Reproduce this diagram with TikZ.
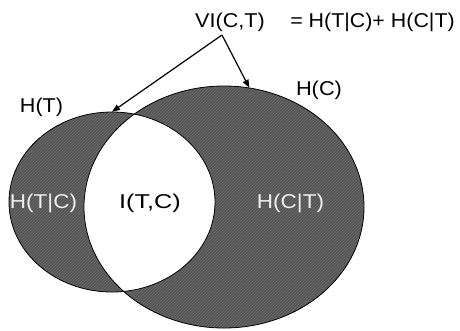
\documentclass[tikz,border=0pt]{standalone}
\usepackage{fontspec}
\usepackage{graphicx}
\setmainfont{Liberation Sans}
\usetikzlibrary{patterns,arrows.meta,shapes.geometric}
\definecolor{darkfill}{RGB}{86,86,86}
\definecolor{hatch}{RGB}{108,108,108}
\definecolor{lighttext}{RGB}{238,238,238}
\begin{document}
\begin{tikzpicture}[x=1pt,y=-1pt,
  lbl/.style={inner sep=0pt, anchor=base, font=\fontsize{20}{22}\selectfont},
  venn/.style={ellipse, inner sep=0pt, preaction={fill=darkfill}, pattern=north east lines, pattern color=hatch},
  arr/.style={-{Triangle[length=8pt,width=6pt]}, line width=1.2pt},
  outline/.style={line width=0.8pt}]
\useasboundingbox (0,0) rectangle (460,330);
% sets
\node[venn, minimum width=280pt, minimum height=242pt] (C) at (224,207) {};
\node[venn, minimum width=206pt, minimum height=180pt] (T) at (112,202) {};
\begin{scope}
  \clip (T.center) ellipse [x radius=103pt, y radius=90pt];
  \fill[white] (C.center) ellipse [x radius=140pt, y radius=121pt];
\end{scope}
\draw[outline] (C.center) ellipse [x radius=140pt, y radius=121pt];
\draw[outline] (T.center) ellipse [x radius=103pt, y radius=90pt];
% labels
\node[lbl] (vi) at (230,27) {\scalebox{1.08}[1]{VI(C,T)}};
\node[lbl] (eq) at (372.5,27) {\scalebox{1.07}[1]{= H(T|C)+ H(C|T)}};
\node[lbl] (hT) at (41.5,112) {\scalebox{1.08}[1]{H(T)}};
\node[lbl] (hC) at (319,95) {\scalebox{1.09}[1]{H(C)}};
\node[lbl, text=lighttext] (hTC) at (43.5,208) {\scalebox{1.125}[1]{H(T|C)}};
\node[lbl] (iTC) at (150,208) {\scalebox{1.26}[1]{I(T,C)}};
\node[lbl, text=lighttext] (hCT) at (290.5,208) {\scalebox{1.125}[1]{H(C|T)}};
% arrows
\coordinate (apex) at (222,35);
\draw[arr] (apex) -- (T.north);
\draw[arr] (apex) -- (C.78);
\end{tikzpicture}
\end{document}
